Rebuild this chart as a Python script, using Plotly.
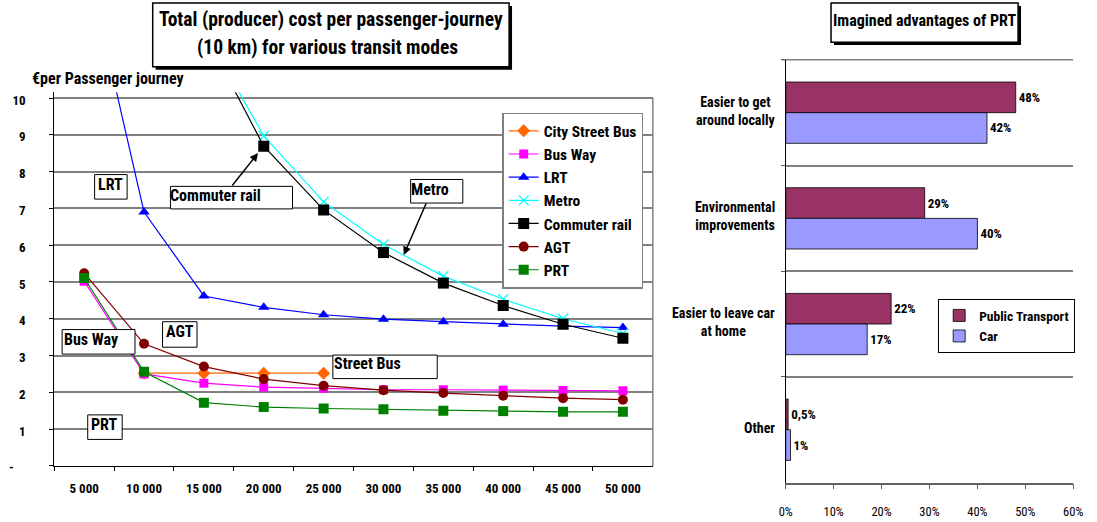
import plotly.graph_objects as go

W, H = 1097, 522
FONT = "Roboto Condensed, Liberation Sans Narrow, DejaVu Sans Condensed, sans-serif"

# ---- Left chart: producer cost per passenger-journey (EUR, 10 km trip) ----
ridership = ["5 000", "10 000", "15 000", "20 000", "25 000",
             "30 000", "35 000", "40 000", "45 000", "50 000"]
city_street_bus = [None, 2.52, 2.52, 2.52, 2.52, None, None, None, None, None]
bus_way = [5.02, 2.50, 2.25, 2.14, 2.11, 2.07, 2.07, 2.06, 2.05, 2.04]
lrt = [14.0, 6.90, 4.62, 4.31, 4.11, 3.99, 3.92, 3.85, 3.80, 3.76]
metro = [None, None, 11.85, 8.97, 7.18, 6.02, 5.16, 4.53, 4.00, 3.60]
commuter_rail = [None, None, 11.8, 8.69, 6.96, 5.80, 4.97, 4.36, 3.85, 3.47]
agt = [5.24, 3.32, 2.70, 2.36, 2.18, 2.06, 1.98, 1.91, 1.84, 1.80]
prt = [5.11, 2.56, 1.72, 1.60, 1.56, 1.54, 1.50, 1.49, 1.47, 1.47]

cost_ticks = [0, 1, 2, 3, 4, 5, 6, 7, 8, 9, 10]
cost_tick_text = ["-\u00a0\u00a0\u00a0\u00a0", "1", "2", "3", "4", "5", "6", "7", "8", "9", "10"]

# ---- Right chart: imagined advantages of PRT (% of respondents) ----
advantages = ["Easier to get<br>around locally", "Environmental<br>improvements",
              "Easier to leave car<br>at home", "Other"]
public_transport = [48, 29, 22, 0.5]
car = [42, 40, 17, 1]
share_ticks = [0, 10, 20, 30, 40, 50, 60]


def px(x):
    return x / W


def py(y):
    return 1 - y / H


def pct(v):
    return f"{v:g}%".replace(".", ",")


fig = go.Figure()

series = [
    ("City Street Bus", city_street_bus, "#FF6600", "diamond", 10),
    ("Bus Way", bus_way, "#FF00FF", "square", 9),
    ("LRT", lrt, "#0000FF", "triangle-up", 10),
    ("Metro", metro, "#00FFFF", "x-thin", 10),
    ("Commuter rail", commuter_rail, "#000000", "square", 11),
    ("AGT", agt, "#800000", "circle", 10),
    ("PRT", prt, "#008000", "square", 10),
]
for name, vals, color, symbol, size in series:
    marker = dict(symbol=symbol, size=size, color=color)
    if symbol == "x-thin":
        marker["line"] = dict(color=color, width=1.2)
    fig.add_trace(go.Scatter(
        x=ridership, y=vals, name=name, mode="lines+markers",
        line=dict(color=color, width=1.2), marker=marker,
        legendgroup=name, legend="legend", xaxis="x", yaxis="y",
    ))

for name, vals, color in [("Public Transport", public_transport, "#993366"),
                          ("Car", car, "#9999FF")]:
    fig.add_trace(go.Bar(
        y=advantages, x=vals, name=name, orientation="h",
        marker=dict(color=color, line=dict(color="#000000", width=0.8)),
        text=[pct(v) for v in vals], textposition="outside",
        textfont=dict(family=FONT, size=13, color="#000000", weight="bold"),
        cliponaxis=False, xaxis="x2", yaxis="y2", legend="legend2",
    ))

shapes = []
annotations = []


def text_box(x0, y0, x1, y1, shadow=0, lw=1):
    if shadow:
        shapes.append(dict(type="rect", xref="paper", yref="paper",
                           x0=px(x0 + shadow), x1=px(x1 + shadow),
                           y0=py(y0 + shadow), y1=py(y1 + shadow),
                           fillcolor="#000000", line=dict(width=0), layer="above"))
    shapes.append(dict(type="rect", xref="paper", yref="paper",
                       x0=px(x0), x1=px(x1), y0=py(y0), y1=py(y1),
                       fillcolor="#FFFFFF", line=dict(color="#000000", width=lw),
                       layer="above"))


def label(text, x, y, size=16):
    annotations.append(dict(text=text, xref="paper", yref="paper", x=px(x), y=py(y),
                            xanchor="center", yanchor="middle", align="center",
                            showarrow=False,
                            font=dict(family=FONT, size=size, color="#000000",
                                      weight="bold")))


def arrow(x_tail, y_tail, x_head, y_head):
    annotations.append(dict(text="", xref="paper", yref="paper",
                            x=px(x_head), y=py(y_head),
                            axref="pixel", ayref="pixel",
                            ax=x_tail - x_head, ay=y_tail - y_head,
                            showarrow=True, arrowhead=2, arrowsize=1.1,
                            arrowwidth=1.5, arrowcolor="#000000"))


# Chart titles with drop shadow
text_box(148, 3, 510, 68, shadow=3, lw=1.5)
label("Total (producer) cost per passenger-journey", 329, 20, size=19.5)
label("(10 km) for various transit modes", 326, 48, size=19.5)

text_box(837, 3, 1027, 43, shadow=3, lw=1.5)
label("Imagined advantages of PRT", 932, 21, size=16)

# Axis caption
label("€per Passenger journey", 103, 80, size=16)

# Mode call-outs
text_box(89, 178, 122, 203)
label("LRT", 105, 188)
text_box(166, 190, 290, 213)
label("Commuter rail", 212, 199)
arrow(228, 190, 255, 156)
text_box(410, 183, 463, 207)
label("Metro", 430, 193)
arrow(426, 207, 403, 260)
text_box(158, 328, 193, 354)
label("AGT", 176, 338)
text_box(56, 336, 130, 361)
label("Bus Way", 85, 346)
text_box(331, 362, 437, 386)
label("Street Bus", 366, 371)
text_box(82, 423, 117, 448)
label("PRT", 99, 433)

# Right border of the cost plot
shapes.append(dict(type="line", xref="x domain", yref="y", x0=1, x1=1, y0=0, y1=10,
                   line=dict(color="#808080", width=1.5), layer="below"))
# Top category boundary of the advantages plot
shapes.append(dict(type="line", xref="paper", yref="y2 domain",
                   x0=px(787), x1=px(1083), y0=1, y1=1,
                   line=dict(color="#808080", width=1.5), layer="below"))

# Category labels of the advantages chart
for cat in advantages:
    annotations.append(dict(text=cat, xref="paper", yref="y2", x=px(782), y=cat,
                            yshift=2, xanchor="right", yanchor="middle",
                            align="center", showarrow=False,
                            font=dict(family=FONT, size=14, color="#000000",
                                      weight="bold")))

fig.update_layout(
    width=W, height=H,
    margin=dict(l=0, r=0, t=0, b=0),
    paper_bgcolor="#FFFFFF", plot_bgcolor="#FFFFFF",
    font=dict(family=FONT, color="#000000"),
    barmode="group", bargap=0.42, bargroupgap=0,
    shapes=shapes, annotations=annotations,
    xaxis=dict(domain=[px(48), px(656)], type="category", range=[-0.5, 9.5],
               tickson="boundaries", ticks="outside", ticklen=4, tickcolor="#000000",
               showline=True, linecolor="#000000", linewidth=1,
               showgrid=False, ticklabelstandoff=10,
               tickfont=dict(family=FONT, size=13, weight="bold"),
               anchor="y", fixedrange=True),
    yaxis=dict(domain=[py(475), py(94)], range=[0, 10.16],
               tickvals=cost_ticks, ticktext=cost_tick_text,
               ticks="outside", ticklen=4, tickcolor="#000000",
               showline=True, linecolor="#000000", linewidth=1,
               showgrid=True, gridcolor="#808080", gridwidth=1.5,
               zeroline=False, ticklabelstandoff=21, ticklabelshift=2,
               tickfont=dict(family=FONT, size=13, weight="bold"),
               anchor="x"),
    xaxis2=dict(domain=[px(791), px(1083)], range=[0, 60],
                tickvals=share_ticks, ticktext=[f"{v}%" for v in share_ticks],
                ticks="outside", ticklen=5, tickcolor="#606060",
                showline=True, linecolor="#606060", linewidth=1.5,
                showgrid=False, zeroline=False, ticklabelstandoff=12,
                tickfont=dict(family=FONT, size=12.5),
                anchor="y2"),
    yaxis2=dict(domain=[py(492), py(61)], type="category", autorange="reversed",
                tickson="boundaries", ticks="outside", ticklen=4, tickcolor="#606060",
                showgrid=True, gridcolor="#808080", gridwidth=1.5,
                showline=True, linecolor="#000000", linewidth=1,
                showticklabels=False, anchor="x2"),
    legend=dict(x=px(503), y=py(115), xanchor="left", yanchor="top",
                bgcolor="#FFFFFF", bordercolor="#808080", borderwidth=1.5,
                font=dict(family=FONT, size=15.5, weight="bold"),
                tracegroupgap=0, itemwidth=30),
    legend2=dict(x=px(1085), y=py(305), xanchor="right", yanchor="top",
                 bgcolor="#FFFFFF", bordercolor="#000000", borderwidth=1,
                 font=dict(family=FONT, size=13.5, weight="bold"),
                 itemwidth=30),
    showlegend=True,
)

fig.write_html("out.html")
